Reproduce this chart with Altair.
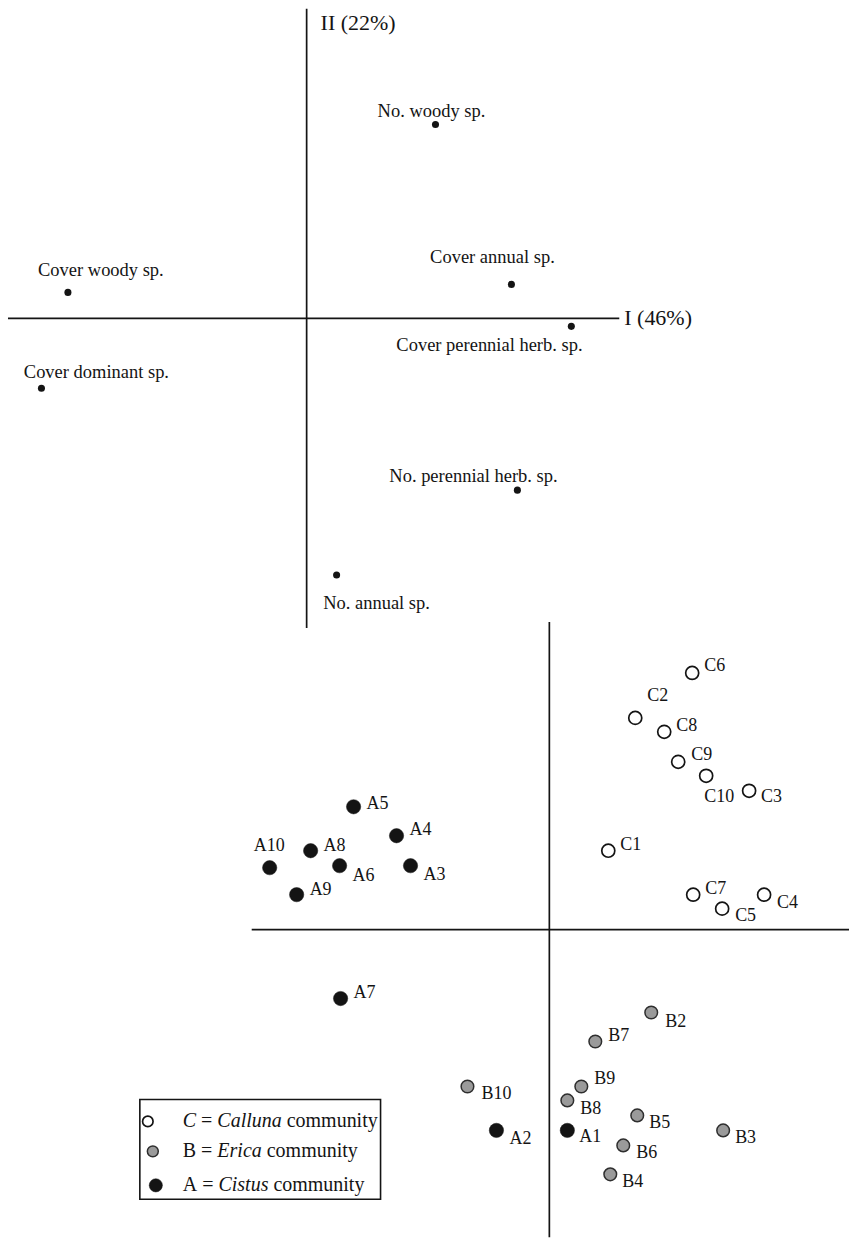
import altair as alt
import pandas as pd

FONT = "Liberation Serif"
INK = "#141414"

# ---------------------------------------------------------------------------
# Upper diagram: variables on PCA axes I and II
# ---------------------------------------------------------------------------
var_names = [
    "No. woody sp.",
    "Cover annual sp.",
    "Cover woody sp.",
    "Cover perennial herb. sp.",
    "Cover dominant sp.",
    "No. perennial herb. sp.",
    "No. annual sp.",
]
var_axis1 = [1.29, 2.05, -2.39, 2.65, -2.655, 2.11, 0.30]
var_axis2 = [1.94, 0.34, 0.26, -0.08, -0.70, -1.72, -2.57]
# label placement around each point (pixels, centred text)
var_label_offsets = [(-4, -14), (-19, -27), (33, -22), (-82, 19), (55, -16), (-44, -14), (40, 28)]

axis_titles = ["I (46%)", "II (22%)"]
var_plot_axis1_extent = [-2.99, 3.13]
var_plot_axis2_extent = [-3.10, 3.10]

# ---------------------------------------------------------------------------
# Lower diagram: site scores of the three shrub communities
# ---------------------------------------------------------------------------
site_ids = [
    "C1", "C2", "C3", "C4", "C5", "C6", "C7", "C8", "C9", "C10",
    "B2", "B3", "B4", "B5", "B6", "B7", "B8", "B9", "B10",
    "A1", "A2", "A3", "A4", "A5", "A6", "A7", "A8", "A9", "A10",
]
site_axis1 = [
    0.59, 0.86, 2.00, 2.15, 1.73, 1.43, 1.44, 1.15, 1.29, 1.57,
    1.02, 1.74, 0.61, 0.88, 0.74, 0.46, 0.18, 0.32, -0.82,
    0.18, -0.53, -1.39, -1.53, -1.96, -2.10, -2.09, -2.39, -2.53, -2.80,
]
site_axis2 = [
    0.79, 2.12, 1.39, 0.35, 0.21, 2.57, 0.35, 1.98, 1.68, 1.54,
    -0.83, -2.01, -2.45, -1.86, -2.16, -1.12, -1.71, -1.57, -1.57,
    -2.01, -2.01, 0.64, 0.94, 1.23, 0.64, -0.69, 0.79, 0.35, 0.62,
]
# label placement (pixels, left-aligned text)
site_label_offsets = {
    "C1": (12, -6), "C2": (12, -22), "C3": (12, 6), "C4": (13, 8), "C5": (13, 7),
    "C6": (12, -7), "C7": (12, -6), "C8": (12, -6), "C9": (13, -7), "C10": (-2, 21),
    "B2": (14, 9), "B3": (12, 8), "B4": (12, 8), "B5": (12, 8), "B6": (13, 8),
    "B7": (13, -6), "B8": (13, 9), "B9": (13, -7), "B10": (14, 8),
    "A1": (12, 7), "A2": (13, 9), "A3": (13, 9), "A4": (13, -6), "A5": (13, -3),
    "A6": (13, 10), "A7": (13, -6), "A8": (13, -5), "A9": (13, -5), "A10": (-16, -22),
}
site_plot_axis1_extent = [-2.98, 3.00]
site_plot_axis2_extent = [-3.08, 3.08]

community_codes = ["C", "B", "A"]
community_genera = ["Calluna", "Erica", "Cistus"]
code_in_italics = [True, False, False]

# marker style per community
community_style = {
    "C": dict(fill="white", stroke=INK, strokeWidth=1.7, size=170),
    "B": dict(fill="#9a9a9a", stroke="#2e2e2e", strokeWidth=1.5, size=160),
    "A": dict(fill=INK, stroke=INK, strokeWidth=0.5, size=205),
}

W = 850
H_TOP = 620
H_BOT = 620

# ---------------------------------------------------------------------------
x_top = alt.Scale(domain=[-3.07, 5.43], nice=False, zero=False)
y_top = alt.Scale(domain=[-3.02, 3.18], nice=False, zero=False)

vars_df = pd.DataFrame({"name": var_names, "a1": var_axis1, "a2": var_axis2})

top_layers = []
axes_top_df = pd.DataFrame({
    "x": [var_plot_axis1_extent[0], 0.0],
    "x2": [var_plot_axis1_extent[1], 0.0],
    "y": [0.0, var_plot_axis2_extent[0]],
    "y2": [0.0, var_plot_axis2_extent[1]],
})
top_layers.append(
    alt.Chart(axes_top_df).mark_rule(color=INK, strokeWidth=1.7).encode(
        x=alt.X("x:Q", scale=x_top, axis=None), x2="x2:Q",
        y=alt.Y("y:Q", scale=y_top, axis=None), y2="y2:Q",
    )
)
titles_df = pd.DataFrame({
    "t": axis_titles,
    "x": [var_plot_axis1_extent[1], 0.0],
    "y": [0.0, var_plot_axis2_extent[1]],
})
for t, (dx, dy) in zip(axis_titles, [(5, 0), (14, 14)]):
    top_layers.append(
        alt.Chart(titles_df).transform_filter(alt.datum.t == t).mark_text(
            align="left", baseline="middle", dx=dx, dy=dy,
            font=FONT, fontSize=22, color=INK,
        ).encode(
            x=alt.X("x:Q", scale=x_top, axis=None),
            y=alt.Y("y:Q", scale=y_top, axis=None),
            text="t:N",
        )
    )
top_layers.append(
    alt.Chart(vars_df).mark_circle(size=50, color=INK, opacity=1).encode(
        x=alt.X("a1:Q", scale=x_top, axis=None),
        y=alt.Y("a2:Q", scale=y_top, axis=None),
    )
)
for name, (dx, dy) in zip(var_names, var_label_offsets):
    top_layers.append(
        alt.Chart(vars_df).transform_filter(alt.datum.name == name).mark_text(
            align="center", baseline="middle", dx=dx, dy=dy,
            font=FONT, fontSize=18.5, color=INK,
        ).encode(
            x=alt.X("a1:Q", scale=x_top, axis=None),
            y=alt.Y("a2:Q", scale=y_top, axis=None),
            text="name:N",
        )
    )
top = alt.layer(*top_layers).properties(width=W, height=H_TOP)

# ---------------------------------------------------------------------------
x_bot = alt.Scale(domain=[-5.5, 3.0], nice=False, zero=False)
y_bot = alt.Scale(domain=[-3.10, 3.10], nice=False, zero=False)

sites_df = pd.DataFrame({"site": site_ids, "a1": site_axis1, "a2": site_axis2})
sites_df["code"] = sites_df["site"].str[0]

bot_layers = []
axes_bot_df = pd.DataFrame({
    "x": [site_plot_axis1_extent[0], 0.0],
    "x2": [site_plot_axis1_extent[1], 0.0],
    "y": [0.0, site_plot_axis2_extent[0]],
    "y2": [0.0, site_plot_axis2_extent[1]],
})
bot_layers.append(
    alt.Chart(axes_bot_df).mark_rule(color=INK, strokeWidth=1.7).encode(
        x=alt.X("x:Q", scale=x_bot, axis=None), x2="x2:Q",
        y=alt.Y("y:Q", scale=y_bot, axis=None), y2="y2:Q",
    )
)
for code in community_codes:
    st = community_style[code]
    bot_layers.append(
        alt.Chart(sites_df).transform_filter(alt.datum.code == code).mark_circle(
            opacity=1, fillOpacity=1, **st
        ).encode(
            x=alt.X("a1:Q", scale=x_bot, axis=None),
            y=alt.Y("a2:Q", scale=y_bot, axis=None),
        )
    )
for sid in site_ids:
    dx, dy = site_label_offsets[sid]
    bot_layers.append(
        alt.Chart(sites_df).transform_filter(alt.datum.site == sid).mark_text(
            align="left", baseline="middle", dx=dx, dy=dy,
            font=FONT, fontSize=18, color=INK,
        ).encode(
            x=alt.X("a1:Q", scale=x_bot, axis=None),
            y=alt.Y("a2:Q", scale=y_bot, axis=None),
            text="site:N",
        )
    )

# ---- hand-set key box with mixed roman / italic text ----
FS_LEG = 20
REG_W = {"A": 722, "B": 667, "C": 667, "=": 564, " ": 250, "c": 444, "o": 500,
         "m": 778, "u": 500, "n": 500, "i": 278, "t": 278, "y": 500}
ITA_W = {"C": 667, "a": 500, "l": 278, "u": 500, "n": 500, "E": 611, "r": 389,
         "i": 278, "c": 444, "s": 389, "t": 278}


def text_width(s, italic):
    table = ITA_W if italic else REG_W
    return sum(table.get(ch, 500) for ch in s) / 1000.0 * FS_LEG


key_box = dict(x=140, x2=381, y=480, y2=580)
key_symbol_pos = [(148, 502), (153, 532), (156, 566)]
key_text_x = 183
key_row_y = [502, 532, 566]

dummy = pd.DataFrame({"k": [0]})
bot_layers.append(
    alt.Chart(dummy).mark_rect(fill="white", stroke=INK, strokeWidth=1.6).encode(
        x=alt.value(key_box["x"]), x2=alt.value(key_box["x2"]),
        y=alt.value(key_box["y"]), y2=alt.value(key_box["y2"]),
    )
)
key_sizes = {"C": 110, "B": 120, "A": 175}
for code, (sx, sy) in zip(community_codes, key_symbol_pos):
    st = dict(community_style[code])
    st["size"] = key_sizes[code]
    bot_layers.append(
        alt.Chart(dummy).mark_circle(opacity=1, fillOpacity=1, **st).encode(
            x=alt.value(sx), y=alt.value(sy)
        )
    )
space = REG_W[" "] / 1000.0 * FS_LEG
for code, genus, ital, ry in zip(community_codes, community_genera, code_in_italics, key_row_y):
    segments = [(code, ital), ("=", False), (genus, True), ("community", False)]
    cx = key_text_x
    for seg, it in segments:
        bot_layers.append(
            alt.Chart(pd.DataFrame({"t": [seg]})).mark_text(
                align="left", baseline="middle", font=FONT, fontSize=FS_LEG,
                fontStyle="italic" if it else "normal", color=INK,
            ).encode(x=alt.value(cx), y=alt.value(ry), text="t:N")
        )
        cx += text_width(seg, it) + space

bottom = alt.layer(*bot_layers).properties(width=W, height=H_BOT)

chart = alt.vconcat(top, bottom, spacing=0, bounds="flush").properties(
    padding=0, background="white"
).configure_view(stroke=None)

chart.save("out.html", embed_options={"renderer": "svg", "actions": False})
